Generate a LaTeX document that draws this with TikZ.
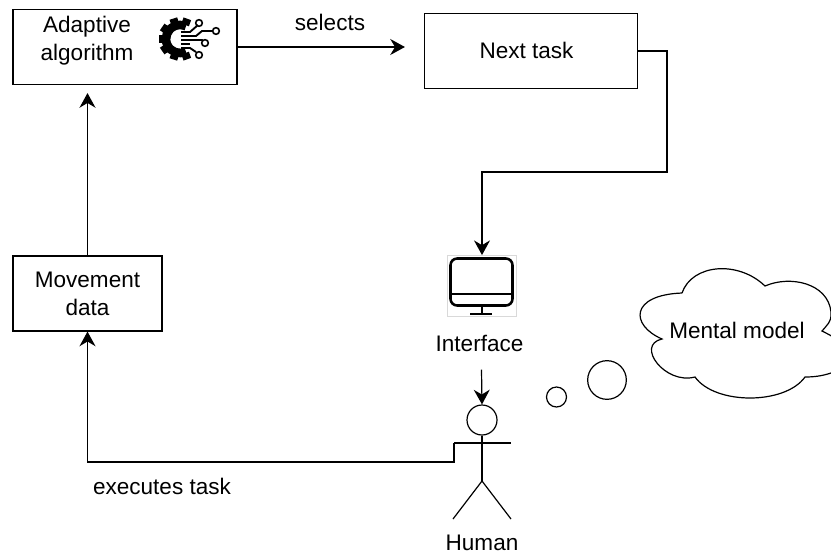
\documentclass[tikz,border=0pt]{standalone}
\usepackage{fontspec}
\setmainfont{Liberation Sans}
\usetikzlibrary{arrows.meta}
\tikzset{
    label text/.style={font=\fontsize{16.9}{21}\selectfont,align=center,inner sep=0pt},
    task box/.style={draw,line width=1.1pt,label text,minimum width=#1,minimum height=56pt},
    flow/.style={line width=0.9pt,-{Stealth[length=11pt,width=12pt]}},
    stick/.style={line width=0.9pt},
    trace/.style={line width=1.4pt},
    pad/.style={draw,line width=1.2pt,circle,inner sep=0pt,minimum size=5pt},
}
\begin{document}
\begin{tikzpicture}[x=0.75pt,y=-0.75pt]
    \clip (0,0) rectangle (831,554);
    %% Boxes
    \node[task box=168pt] (algo) at (125,47) {};
    \node[task box=160pt] (task) at (531,51) {};
    \node[task box=112pt] (movement) at (87.5,293.5) {Movement\\data};
    \node[label text] (algotext) at (87,41) {Adaptive\\algorithm};
    \node[label text] (tasktext) at (526.5,50) {Next task};
    %% Gear
    \draw[line width=6.5pt] (180,39) ++(65:14) arc (65:295:14);
    \foreach \a in {70,108,146,180,214,252,290}
        \draw[line width=6pt] (180,39) ++(\a:15) -- ++(\a:6.5);
    %% Traces
    \draw[trace] (181,32) -- (190,32) -- (198,25);
    \draw[trace] (181,36) -- (196,36) -- (202,31) -- (212,31);
    \draw[trace] (181,40) -- (202,40) -- (203,41);
    \draw[trace] (181,44) -- (190,44);
    \draw[trace] (181,48) -- (190,48) -- (196,52);
    \node[pad] (chipa) at (199,23) {};
    \node[pad] (chipb) at (216,31) {};
    \node[pad] (chipc) at (205,43) {};
    \node[pad] (chipd) at (199,55) {};
    %% Interface
    \node[draw=black!15,line width=0.4pt,minimum width=52pt,minimum height=46pt,inner sep=0pt] (monitor) at (482,286) {};
    \draw[line width=1.9pt,rounded corners=5pt] (450.5,258.5) rectangle (512.5,305.5);
    \draw[line width=1.9pt] (450.5,294) -- (512.5,294);
    \draw[line width=1.9pt] (482,305.5) -- (482,314);
    \draw[line width=1.9pt] (470,314) -- (492,314);
    \node[label text] (interface) at (479.5,343) {Interface};
    %% Human
    \node[draw,circle,line width=0.9pt,minimum size=22.5pt,inner sep=0pt] (head) at (482,420) {};
    \coordinate (hip) at (482,481);
    \coordinate (armleft) at (454,443);
    \coordinate (armright) at (511,443);
    \coordinate (footleft) at (453,519);
    \coordinate (footright) at (511,519);
    \draw[stick] (head.south) -- (hip);
    \draw[stick] (footleft) -- (hip) -- (footright);
    \draw[stick] (armleft) -- (armright);
    \node[label text] (human) at (482,543) {Human};
    %% Thought
    \node[draw,circle,line width=0.9pt,minimum size=15pt,inner sep=0pt] (bubblea) at (556.5,397) {};
    \node[draw,circle,line width=0.9pt,minimum size=29pt,inner sep=0pt] (bubbleb) at (607,380) {};
    \draw[line width=0.9pt] (682,293) .. controls (692,264) and (738,260) .. (765,286)
        .. controls (790,275) and (828,283) .. (831,312)
        .. controls (832,322) and (826,326) .. (822,331)
        .. controls (826,333) and (832,336) .. (838,340)
        -- (838,372) -- (831,373)
        .. controls (822,376) and (814,377) .. (805,377)
        .. controls (785,405) and (715,405) .. (695,377)
        .. controls (665,385) and (635,345) .. (662,339)
        .. controls (630,325) and (630,295) .. (682,293);
    \node[label text] (mental) at (737,330) {Mental model};
    %% Connectors
    \coordinate (bend) at (667,172);
    \draw[flow,shorten >=14pt] (algo.east) -- (algo.east -| task.west);
    \draw[flow] (task.east) -| (bend) -| (monitor.north);
    \draw[flow] (interface.south) ++(2,18) -- (head.north);
    \draw[flow] (armleft) -- ++(0,19) -| (movement.south);
    \draw[flow,shorten >=6pt] (movement.north) -- (movement.north |- algo.south);
    %% Labels
    \node[label text] (selects) at (330,22) {selects};
    \node[label text] (executes) at (162,486) {executes task};
\end{tikzpicture}
\end{document}
